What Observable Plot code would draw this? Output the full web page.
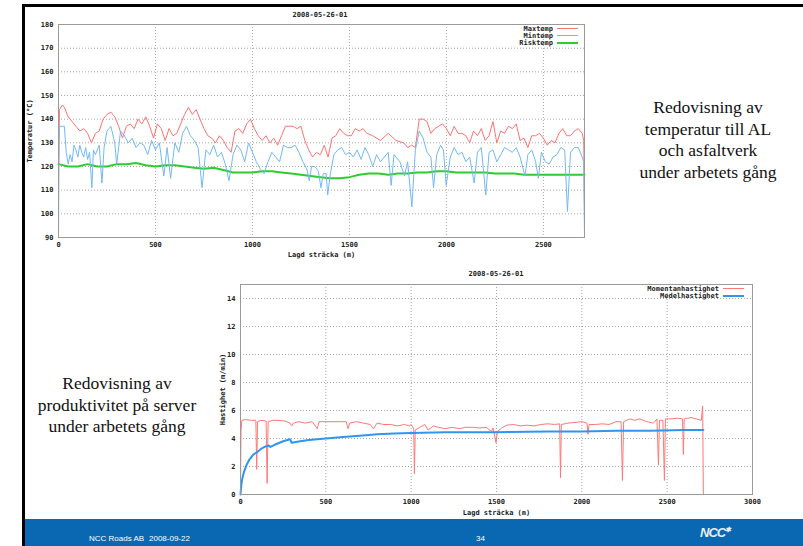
<!DOCTYPE html>
<html><head><meta charset="utf-8">
<script src="https://cdn.jsdelivr.net/npm/d3@7"></script>
<script src="https://cdn.jsdelivr.net/npm/@observablehq/plot@0.6"></script>
<style>
html,body{margin:0;padding:0;background:#fff;}
#slide{position:relative;width:803px;height:546px;overflow:hidden;background:#fff;}
.abs{position:absolute;}
.frame{left:22px;top:4px;width:800px;height:560px;border-top:3px solid #000;border-left:3px solid #000;box-sizing:border-box;}
.ctitle{font:bold 7px "DejaVu Sans Mono",monospace;color:#222;text-align:center;white-space:nowrap;}
.note{font:17.5px "Liberation Serif","Times New Roman",serif;color:#111;text-align:center;line-height:21.5px;white-space:nowrap;}
.footer{left:25px;top:519px;width:778px;height:27px;background:#0a68b2;}
.ftxt{font:8px "Liberation Sans",Arial,sans-serif;color:#fff;white-space:nowrap;}
.leg{font:bold 7px "DejaVu Sans Mono",monospace;color:#222;white-space:nowrap;display:flex;align-items:center;justify-content:flex-end;height:7px;}
.leg span.sw{display:inline-block;width:21px;margin-left:4px;}
</style></head>
<body>
<div id="slide">
  <div class="abs frame"></div>
  <div id="c1" class="abs" style="left:24px;top:7px;"></div>
  <div id="c2" class="abs" style="left:220px;top:265px;"></div>
  <div class="abs ctitle" style="left:270px;top:11px;width:100px;">2008-05-26-01</div>
  <div class="abs ctitle" style="left:446px;top:270px;width:100px;">2008-05-26-01</div>
  <div id="leg1" class="abs" style="left:440px;top:25px;width:138px;"></div>
  <div id="leg2" class="abs" style="left:580px;top:285px;width:164px;"></div>
  <div class="abs note" style="left:608px;top:97px;width:200px;">Redovisning av<br>temperatur till AL<br>och asfaltverk<br>under arbetets gång</div>
  <div class="abs note" style="left:17px;top:373px;width:200px;">Redovisning av<br>produktivitet på server<br>under arbetets gång</div>
  <div class="abs footer"></div>
  <div class="abs ftxt" style="left:89px;top:534px;">NCC Roads AB</div>
  <div class="abs ftxt" style="left:149px;top:534px;">2008-09-22</div>
  <div class="abs ftxt" style="left:476px;top:534px;">34</div>
  <div class="abs" style="left:700px;top:525px;font:italic bold 13px 'Liberation Sans',Arial,sans-serif;color:#e8eef6;letter-spacing:-1px;">NCC<sup style="font-size:7px;">✱</sup></div>
</div>
<script>
// ---------- Chart 1: temperatures ----------
const tempTitle = "2008-05-26-01";
const tempXTicks = [0, 500, 1000, 1500, 2000, 2500];
const tempYTicks = [90, 100, 110, 120, 130, 140, 150, 160, 170, 180];
const tempSeriesNames = ["Maxtemp", "Mintemp", "Risktemp"];
const tempColors = ["#ff7272", "#72baf5", "#2ecc2e"];

const maxtemp = [[0,116],[2,127],[5,144],[20,146],[30,145],[50,141],[70,139],[90,137],[110,135],[130,136],[150,134],[170,130],[190,134],[210,135],[230,140],[250,142],[270,143],[290,141],[310,137],[330,132],[350,137],[370,138],[390,136],[410,140],[430,138],[450,141],[470,137],[490,132],[510,138],[530,136],[550,131],[570,136],[590,133],[610,134],[630,138],[650,142],[670,145],[690,142],[710,144],[730,140],[750,136],[770,133],[790,132],[810,130],[830,133],[850,131],[870,128],[890,126],[910,135],[930,136],[950,134],[970,138],[990,140],[1010,136],[1030,133],[1050,131],[1070,133],[1090,130],[1110,132],[1130,129],[1150,133],[1170,137],[1190,137],[1210,137],[1230,136],[1250,137],[1270,131],[1290,127],[1310,124],[1330,126],[1350,125],[1370,129],[1390,124],[1410,132],[1430,133],[1450,136],[1470,134],[1490,133],[1510,133],[1530,136],[1550,135],[1570,136],[1590,134],[1620,133],[1660,131],[1700,134],[1740,131],[1780,130],[1800,128],[1820,129],[1840,128],[1860,140],[1880,140],[1900,139],[1920,134],[1940,136],[1960,137],[1980,138],[2000,136],[2020,133],[2040,137],[2060,134],[2080,134],[2100,133],[2120,130],[2140,135],[2160,133],[2180,136],[2200,131],[2220,133],[2240,139],[2260,130],[2280,135],[2300,134],[2320,137],[2340,136],[2360,138],[2380,131],[2400,132],[2420,128],[2440,133],[2460,133],[2480,134],[2500,132],[2520,129],[2540,131],[2560,130],[2580,134],[2600,136],[2620,133],[2640,133],[2660,135],[2680,136],[2700,134],[2708,131],[2712,100]];

const mintemp = [[0,90],[3,130],[5,137],[20,137],[30,137],[40,126],[50,121],[60,125],[70,122],[80,129],[90,127],[100,124],[110,129],[120,126],[130,124],[140,128],[150,123],[160,126],[172,111],[180,127],[190,125],[200,127],[210,129],[224,113],[235,128],[250,135],[260,136],[270,137],[290,130],[300,121],[320,135],[340,133],[360,130],[380,132],[400,128],[420,130],[440,129],[460,125],[480,131],[500,127],[520,130],[543,116],[560,128],[578,115],[600,130],[620,126],[640,134],[660,137],[680,133],[700,131],[720,128],[740,111],[760,127],[780,125],[800,129],[820,124],[840,126],[860,121],[879,114],[900,125],[920,129],[940,127],[960,122],[980,130],[1000,126],[1020,122],[1040,119],[1060,117],[1080,122],[1100,126],[1120,124],[1140,122],[1160,129],[1180,128],[1200,128],[1220,129],[1240,126],[1260,122],[1280,119],[1293,114],[1305,120],[1320,120],[1340,118],[1353,111],[1365,117],[1380,117],[1388,108],[1400,116],[1420,125],[1440,127],[1460,128],[1480,125],[1500,126],[1520,124],[1540,127],[1560,123],[1580,128],[1600,125],[1620,120],[1640,125],[1660,122],[1680,124],[1700,126],[1715,112],[1730,125],[1760,122],[1784,116],[1800,122],[1822,103],[1840,127],[1860,135],[1880,132],[1900,126],[1920,124],[1934,111],[1950,125],[1970,129],[1985,127],[1999,112],[2020,124],[2040,128],[2060,125],[2080,126],[2100,122],[2120,124],[2143,113],[2160,126],[2180,128],[2203,108],[2220,126],[2240,127],[2260,122],[2280,125],[2300,128],[2320,127],[2340,126],[2360,128],[2380,124],[2405,116],[2420,125],[2440,127],[2460,122],[2474,115],[2490,126],[2510,122],[2530,121],[2550,124],[2570,125],[2590,128],[2610,127],[2624,101],[2640,126],[2660,128],[2680,128],[2700,124],[2708,122],[2712,90]];

const risktemp = [[0,121],[50,120],[100,120],[150,121],[200,120],[250,120],[300,121],[350,121],[400,121.5],[450,120.5],[500,120],[550,120.5],[600,120.5],[650,120],[700,119.5],[750,119],[800,119.5],[850,118.5],[900,117.5],[950,117.5],[1000,117.5],[1050,118],[1100,118],[1150,117.5],[1200,117],[1250,116.5],[1300,116],[1350,115.5],[1400,115],[1450,115],[1500,115.5],[1550,116.5],[1600,117],[1650,117],[1700,116.5],[1750,117],[1800,117],[1850,117.5],[1900,117.5],[1950,118],[2000,118],[2050,117.5],[2100,117.5],[2150,117.5],[2200,117.5],[2250,117],[2300,117],[2350,117],[2400,116.5],[2450,116.5],[2500,116.5],[2550,116.5],[2600,116.5],[2650,116.5],[2712,116.5]];

// ---------- Chart 2: speeds ----------
const speedXTicks = [0, 500, 1000, 1500, 2000, 2500, 3000];
const speedYTicks = [0, 2, 4, 6, 8, 10, 12, 14];
const speedSeriesNames = ["Momentanhastighet", "Medelhastighet"];
const speedColors = ["#ff7878", "#2f95ee"];

const momentan = [[0,0.3],[3,4.5],[8,5.3],[30,5.35],[60,5.3],[90,5.3],[95,1.8],[100,5.2],[120,5.3],[150,5.25],[156,0.8],[162,5.2],[190,5.3],[220,5.3],[260,5.25],[290,5.1],[300,4.9],[310,5.1],[340,5.2],[380,5.1],[420,5.2],[450,4.7],[460,5.2],[500,5.2],[540,5.2],[580,5.2],[620,5.2],[630,4.7],[640,5.1],[680,5.2],[720,5.1],[760,5.0],[780,4.7],[800,5.1],[840,5.0],[880,5.0],[920,4.9],[960,5.0],[990,4.9],[1000,5.0],[1015,4.7],[1019,1.5],[1024,4.6],[1050,4.8],[1080,5.0],[1100,4.6],[1130,4.9],[1160,4.8],[1200,4.7],[1240,4.8],[1280,4.7],[1320,4.8],[1360,4.8],[1400,4.75],[1440,4.8],[1470,4.5],[1480,4.75],[1497,3.7],[1505,4.5],[1530,4.75],[1560,4.95],[1600,5.0],[1640,4.9],[1680,4.95],[1720,4.9],[1760,5.0],[1800,5.05],[1840,5.0],[1870,5.05],[1875,1.2],[1880,5.0],[1920,5.1],[1960,5.15],[2000,5.2],[2030,5.1],[2036,4.3],[2042,5.0],[2080,5.0],[2120,5.05],[2160,5.0],[2200,5.2],[2230,5.2],[2238,1.0],[2245,5.2],[2280,5.4],[2310,5.3],[2340,5.4],[2380,5.2],[2420,5.1],[2440,5.4],[2449,2.1],[2455,5.3],[2475,5.3],[2484,1.0],[2490,5.4],[2520,5.4],[2560,5.45],[2590,5.4],[2595,2.85],[2600,5.4],[2640,5.5],[2670,5.4],[2700,5.3],[2708,6.3],[2712,0]];

const medel = [[0,0],[5,0.7],[10,1.1],[20,1.6],[35,2.1],[50,2.45],[75,2.85],[100,3.05],[125,3.3],[150,3.45],[165,3.5],[175,3.4],[200,3.55],[250,3.8],[290,3.95],[300,3.7],[350,3.8],[400,3.9],[450,3.95],[500,4.0],[600,4.1],[700,4.2],[800,4.3],[900,4.35],[1000,4.4],[1200,4.45],[1500,4.45],[1800,4.5],[2000,4.5],[2200,4.55],[2400,4.55],[2600,4.6],[2712,4.6]];

const axisStyle = {fontFamily: "DejaVu Sans Mono, monospace", fontSize: "7px", fontWeight: "bold", color: "#222", background: "transparent", overflow: "visible"};
const plain = d => String(d);

function gridMarks(xt, yt) {
  return [
    Plot.ruleX(xt, {stroke: "#a8a8a8", strokeDasharray: "1,2", strokeWidth: 1}),
    Plot.ruleY(yt, {stroke: "#a8a8a8", strokeDasharray: "1,2", strokeWidth: 1})
  ];
}

const chart1 = Plot.plot({
  width: 580, height: 258,
  marginLeft: 34, marginRight: 20, marginTop: 17, marginBottom: 28,
  style: axisStyle,
  x: {domain: [0, 2712], ticks: tempXTicks, tickFormat: plain, tickSize: 0, tickPadding: 5, label: "Lagd sträcka (m)", labelAnchor: "center", labelOffset: 19, labelArrow: "none"},
  y: {domain: [90, 180], ticks: tempYTicks, tickFormat: plain, tickSize: 0, tickPadding: 5, label: "Temperatur (°C)", labelAnchor: "center", labelOffset: 31, labelArrow: "none"},
  marks: [
    ...gridMarks(tempXTicks.filter(d => d > 0), tempYTicks.filter(d => d > 90 && d < 180)),
    Plot.line(risktemp, {x: d => d[0], y: d => d[1], stroke: tempColors[2], strokeWidth: 2}),
    Plot.line(maxtemp, {x: d => d[0], y: d => d[1], stroke: tempColors[0], strokeWidth: 1}),
    Plot.line(mintemp, {x: d => d[0], y: d => d[1], stroke: tempColors[1], strokeWidth: 1}),
    Plot.frame({stroke: "#9a9a9a"})
  ]
});
document.getElementById("c1").appendChild(chart1);

const chart2 = Plot.plot({
  width: 560, height: 253,
  marginLeft: 20, marginRight: 28, marginTop: 19, marginBottom: 24,
  style: axisStyle,
  x: {domain: [0, 3000], ticks: speedXTicks, tickFormat: plain, tickSize: 0, tickPadding: 5, label: "Lagd sträcka (m)", labelAnchor: "center", labelOffset: 20, labelArrow: "none"},
  y: {domain: [0, 15], ticks: speedYTicks, tickFormat: plain, tickSize: 0, tickPadding: 5, label: "Hastighet (m/min)", labelAnchor: "center", labelOffset: 20, labelArrow: "none"},
  marks: [
    ...gridMarks(speedXTicks.filter(d => d > 0 && d < 3000), speedYTicks.filter(d => d > 0)),
    Plot.line(momentan, {x: d => d[0], y: d => d[1], stroke: speedColors[0], strokeWidth: 1}),
    Plot.line(medel, {x: d => d[0], y: d => d[1], stroke: speedColors[1], strokeWidth: 2}),
    Plot.frame({stroke: "#9a9a9a"})
  ]
});
document.getElementById("c2").appendChild(chart2);

function legend(id, names, colors, widths) {
  const el = document.getElementById(id);
  names.forEach((n, i) => {
    const row = document.createElement("div");
    row.className = "leg";
    row.innerHTML = `<span>${n}</span><span class="sw" style="border-top:${widths[i]}px solid ${colors[i]};"></span>`;
    el.appendChild(row);
  });
}
legend("leg1", tempSeriesNames, tempColors, [1, 1, 2]);
legend("leg2", speedSeriesNames, speedColors, [1, 2]);
</script>
</body></html>
